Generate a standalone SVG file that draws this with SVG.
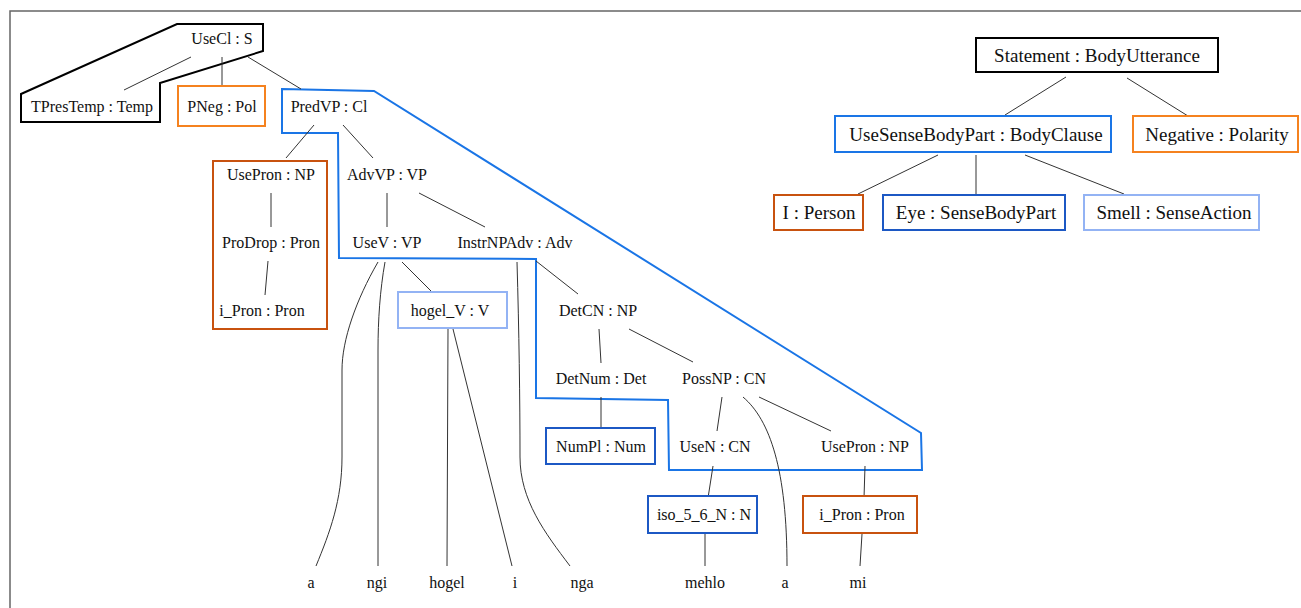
<svg xmlns="http://www.w3.org/2000/svg" width="1301" height="608" viewBox="0 0 1301 608">
<style>
text{font-family:"Liberation Serif","Times New Roman",serif;fill:#111;text-anchor:middle}
.s{font-size:16px}
.b{font-size:19px}
.bx{fill:#fff;stroke-width:2}
.open{fill:none}
.blk{stroke:#000}
.org{stroke:#f5821f}
.brn{stroke:#c8520f}
.blu{stroke:#1a75e6}
.dbl{stroke:#1c58c4}
.lbl{stroke:#93b3f4}
.cl{fill:none;stroke-width:2}
#connectors path{fill:none;stroke:#333;stroke-width:1}
</style>
<rect x="0" y="0" width="1301" height="608" fill="#fff"/>
<path d="M10,608 V11 H1301" fill="none" stroke="#666" stroke-width="1.5"/>
<g id="clusters">
<polygon class="cl blk" points="21,94 177,24 263,24 263,51 160,83 160,122 21,122"/>
<polygon class="cl blu" points="282,89 374,91 921,433 922,470 669,470 668,400 536,398 536,259 339,258 338,133 282,133"/>
</g>
<g id="connectors">
<path d="M191,57 L124,90"/>
<path d="M222,57 L222,90"/>
<path d="M248,57 L301,89"/>
<path d="M314,125 L286,158"/>
<path d="M343,125 L373,158"/>
<path d="M271,193 L271,227"/>
<path d="M268,261 L265,295"/>
<path d="M387,193 L387,227"/>
<path d="M419,193 L485,227"/>
<path d="M378,262 C356,300 342,340 342,370 L342,457 C342,500 330,532 316,566"/>
<path d="M385,262 C380,290 378,320 378,350 L378,566"/>
<path d="M402,262 L433,293"/>
<path d="M448,329 L447,566"/>
<path d="M453,329 L512,566"/>
<path d="M517,262 C519,330 520,400 520,457 C520,500 545,533 570,566"/>
<path d="M536,261 L578,294"/>
<path d="M599,329 L601,363"/>
<path d="M629,329 L693,362"/>
<path d="M601,397 L601,430"/>
<path d="M722,397 L717,431"/>
<path d="M743,397 C770,420 787,470 787,566"/>
<path d="M759,397 L831,431"/>
<path d="M713,466 L708,498"/>
<path d="M705,533 L705,566"/>
<path d="M865,466 L864,498"/>
<path d="M862,534 L860,566"/>
<path d="M1066,77 L1005,115"/>
<path d="M1127,78 L1188,116"/>
<path d="M938,155 L858,194"/>
<path d="M976,155 L976,194"/>
<path d="M1025,155 L1124,194"/>
</g>
<g id="n-usecl"><text class="s" x="222" y="43.5">UseCl : S</text></g>
<g id="n-tprestemp"><text class="s" x="92" y="112">TPresTemp : Temp</text></g>
<g id="n-pneg"><rect class="bx org" x="178" y="86" width="87" height="40"/><text class="s" x="222" y="112">PNeg : Pol</text></g>
<g id="n-predvp"><text class="s" x="329" y="112">PredVP : Cl</text></g>
<g id="n-usepron1"><rect class="bx open brn" x="213" y="161" width="114" height="168"/><text class="s" x="271" y="180">UsePron : NP</text></g>
<g id="n-prodrop"><text class="s" x="271" y="248">ProDrop : Pron</text></g>
<g id="n-ipron1"><text class="s" x="262" y="316">i_Pron : Pron</text></g>
<g id="n-advvp"><text class="s" x="387" y="180">AdvVP : VP</text></g>
<g id="n-usev"><text class="s" x="387" y="248">UseV : VP</text></g>
<g id="n-instr"><text class="s" x="515" y="248">InstrNPAdv : Adv</text></g>
<g id="n-hogelv"><rect class="bx lbl" x="398" y="292" width="109" height="36"/><text class="s" x="450" y="316">hogel_V : V</text></g>
<g id="n-detcn"><text class="s" x="598" y="316">DetCN : NP</text></g>
<g id="n-detnum"><text class="s" x="601" y="384">DetNum : Det</text></g>
<g id="n-possnp"><text class="s" x="724" y="384">PossNP : CN</text></g>
<g id="n-numpl"><rect class="bx dbl" x="546" y="428" width="109" height="36"/><text class="s" x="601" y="452">NumPl : Num</text></g>
<g id="n-usen"><text class="s" x="715" y="452">UseN : CN</text></g>
<g id="n-usepron2"><text class="s" x="865" y="452">UsePron : NP</text></g>
<g id="n-iso"><rect class="bx dbl" x="648" y="496" width="109" height="37"/><text class="s" x="704" y="520">iso_5_6_N : N</text></g>
<g id="n-ipron2"><rect class="bx brn" x="803" y="496" width="114" height="37"/><text class="s" x="862" y="520">i_Pron : Pron</text></g>
<g id="w-a1"><text class="s" x="311" y="588">a</text></g>
<g id="w-ngi"><text class="s" x="377" y="588">ngi</text></g>
<g id="w-hogel"><text class="s" x="447" y="588">hogel</text></g>
<g id="w-i"><text class="s" x="515" y="588">i</text></g>
<g id="w-nga"><text class="s" x="582" y="588">nga</text></g>
<g id="w-mehlo"><text class="s" x="705" y="588">mehlo</text></g>
<g id="w-a2"><text class="s" x="785" y="588">a</text></g>
<g id="w-mi"><text class="s" x="858" y="588">mi</text></g>
<g id="n-statement"><rect class="bx blk" x="976" y="38" width="242" height="34"/><text class="b" x="1097" y="61.5">Statement : BodyUtterance</text></g>
<g id="n-usesense"><rect class="bx blu" x="835" y="116" width="276" height="36"/><text class="b" x="976" y="140.5">UseSenseBodyPart : BodyClause</text></g>
<g id="n-negative"><rect class="bx org" x="1133" y="116" width="165" height="36"/><text class="b" x="1217" y="140.5">Negative : Polarity</text></g>
<g id="n-iperson"><rect class="bx brn" x="774" y="195" width="89" height="35"/><text class="b" x="819" y="219">I : Person</text></g>
<g id="n-eye"><rect class="bx dbl" x="883" y="195" width="182" height="35"/><text class="b" x="976" y="219">Eye : SenseBodyPart</text></g>
<g id="n-smell"><rect class="bx lbl" x="1084" y="195" width="175" height="35"/><text class="b" x="1174" y="219">Smell : SenseAction</text></g>
</svg>
